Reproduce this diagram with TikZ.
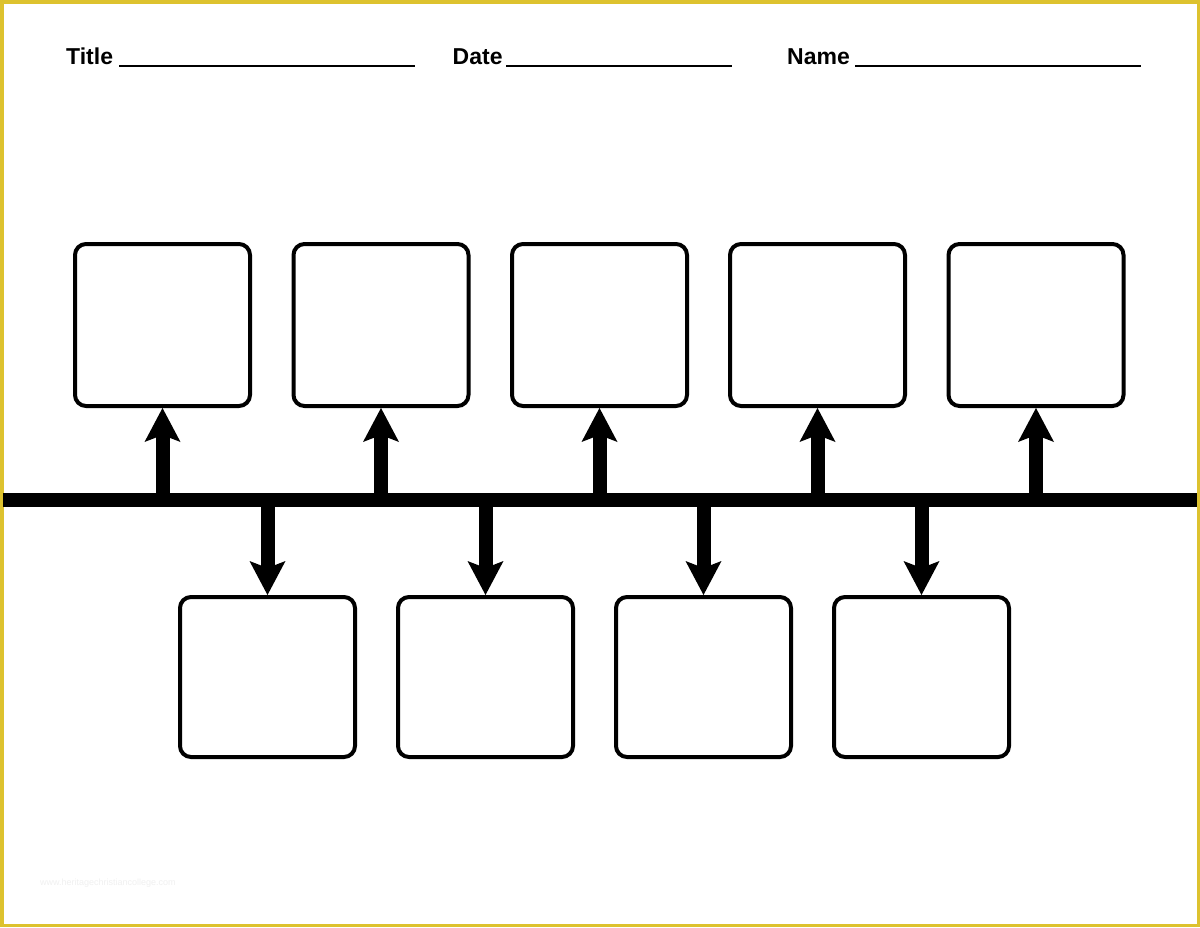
\documentclass[tikz,border=0pt]{standalone}
\usepackage{fontspec}
\setmainfont{Liberation Sans}
\usetikzlibrary{arrows.meta}
\definecolor{frameyellow}{RGB}{221,194,46}
\tikzset{
  card/.style={draw=black, line width=4pt, rounded corners=11pt, fill=white,
    minimum width=175pt, minimum height=162pt, inner sep=0pt},
  lowcard/.style={card, minimum height=160pt},
  spine/.style={line width=14pt, black},
  pointer/.style={line width=14pt, black,
    -{Stealth[length=34pt,width=36pt,inset=7pt,line width=0pt]}},
  fieldlabel/.style={font=\fontsize{23}{28}\selectfont\bfseries, inner sep=0pt, anchor=base west},
  blank/.style={line width=2.6pt, black},
}
\begin{document}
\begin{tikzpicture}[x=1pt,y=-1pt]
\useasboundingbox (0,0) rectangle (1200,927);
\fill[white] (0,0) rectangle (1200,927);
\draw[frameyellow, line width=3.5pt] (1.75,1.75) rectangle (1198.25,925.25);

% header
\node[fieldlabel] (title) at (66,64.5) {Title};
\coordinate (titleA) at (119,66); \coordinate (titleB) at (415,66);
\draw[blank] (titleA) -- (titleB);
\node[fieldlabel] (date) at (452.5,64.5) {Date};
\coordinate (dateA) at (506,66); \coordinate (dateB) at (732,66);
\draw[blank] (dateA) -- (dateB);
\node[fieldlabel] (name) at (787,64.5) {Name};
\coordinate (nameA) at (855,66); \coordinate (nameB) at (1141,66);
\draw[blank] (nameA) -- (nameB);

% timeline
\coordinate (lineL) at (3,500);
\coordinate (lineR) at (1197,500);

% top cards
\foreach \i/\x in {1/162.5,2/381,3/599.5,4/817.5,5/1036}{
  \node[card] (t\i) at (\x,325) {};
  \coordinate (ts\i) at (\x,500);
}
% bottom cards
\foreach \i/\x in {1/267.5,2/485.5,3/703.5,4/921.5}{
  \node[lowcard] (b\i) at (\x,677) {};
  \coordinate (bs\i) at (\x,500);
}

\foreach \i in {1,...,5}{ \draw[pointer] (ts\i) -- (t\i.south); }
\foreach \i in {1,...,4}{ \draw[pointer] (bs\i) -- (b\i.north); }
\draw[spine] (lineL) -- (lineR);

% watermark
\node[font=\fontsize{9}{10}\selectfont, text=black!6, anchor=base west, inner sep=0pt] (wm) at (40,885) {www.heritagechristiancollege.com};
\end{tikzpicture}
\end{document}
